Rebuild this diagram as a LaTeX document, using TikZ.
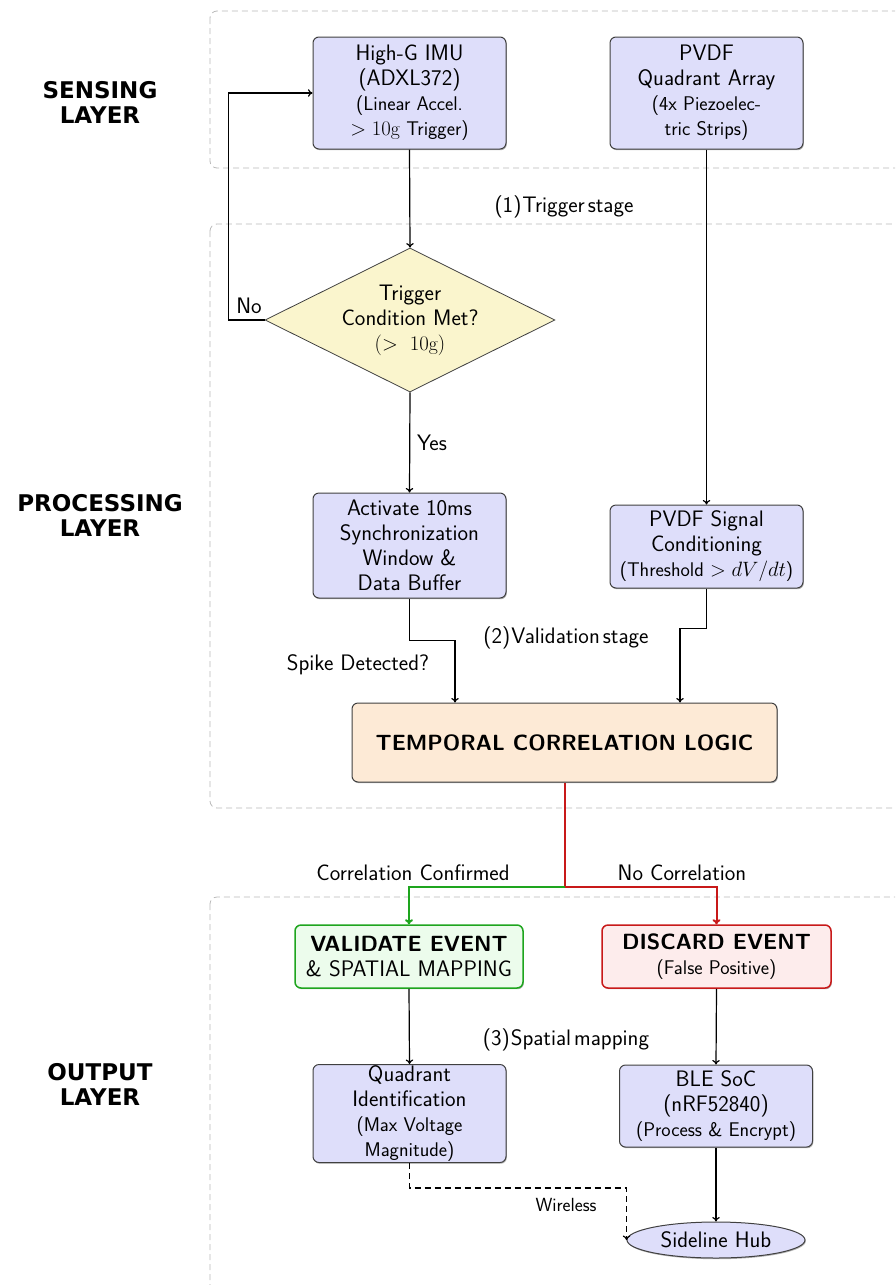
\documentclass[tikz,border=0pt]{standalone}
\usepackage{fontspec}
\usetikzlibrary{shapes.geometric,arrows.meta,shadows,calc}
\newfontfamily\layerfont{DejaVu Sans}
\definecolor{boxblue}{RGB}{222,222,250}
\definecolor{decfill}{RGB}{250,245,205}
\definecolor{peach}{RGB}{253,234,214}
\definecolor{vgreen}{RGB}{30,165,30}
\definecolor{vgreenfill}{RGB}{236,252,236}
\definecolor{dred}{RGB}{200,25,25}
\definecolor{dredfill}{RGB}{253,236,236}
\definecolor{framegray}{RGB}{185,185,185}
\newcommand\smtxt[1]{{\fontsize{19.8}{24}\selectfont #1}}
\begin{document}
\begin{tikzpicture}[x=1pt,y=-1pt,
  mainfont/.style={font=\fontsize{22.4}{25}\selectfont\sffamily},
  box/.style={draw=black!75, fill=boxblue, rounded corners=6pt, line width=1pt,
    align=center, minimum width=193pt, inner sep=1pt, mainfont,
    drop shadow={shadow xshift=0.8pt, shadow yshift=-1.2pt, fill=black!60, opacity=0.5}},
  decision/.style={diamond, draw=black!75, fill=decfill, line width=0.8pt, align=center,
    minimum width=290pt, minimum height=144pt, inner sep=0pt, aspect=2, mainfont},
  layerframe/.style={draw=framegray, dashed, dash pattern=on 6pt off 4pt, line width=0.8pt, rounded corners=7pt},
  layerlabel/.style={align=center, font=\fontsize{23}{25}\selectfont\layerfont\bfseries},
  lbl/.style={mainfont, inner sep=0pt},
  conn/.style={draw=black, line width=1.2pt, -{To[length=4.5pt,width=7.5pt]}},
]
\path[use as bounding box] (0,0) rectangle (895,1285);
\clip (0,0) rectangle (895,1285);

% layer frames
\draw[layerframe] (210,11) rectangle (920,168);
\draw[layerframe] (210,224) rectangle (920,808);
\draw[layerframe] (210,897) rectangle (920,1320);

% layer labels
\node[layerlabel] (lsens) at (100,102) {SENSING\\LAYER};
\node[layerlabel] (lproc) at (100,515) {PROCESSING\\LAYER};
\node[layerlabel] (lout) at (100,1084) {OUTPUT\\LAYER};

% nodes
\node[box, minimum height=112pt] (imu) at (409.5,93) {High-G IMU\\(ADXL372)\\\smtxt{(Linear Accel.}\\\smtxt{$>10\mathrm{g}$ Trigger)}};
\node[box, minimum height=112pt] (pvdf) at (706.5,93) {PVDF\\Quadrant Array\\\smtxt{(4x Piezoelec-}\\\smtxt{tric Strips)}};
\node[decision] (dec) at (410,320) {Trigger\\Condition Met?\\\smtxt{$(>\ 10\mathrm{g})$}};
\node[box, minimum height=105pt] (act) at (409.5,545.5) {Activate 10ms\\Synchronization\\Window \&\\Data Buffer};
\node[box, minimum height=83pt] (pcond) at (706.5,546.5) {PVDF Signal\\Conditioning\\\smtxt{(Threshold $> dV/dt$)}};
\node[box, fill=peach, minimum width=425pt, minimum height=79pt,
  font=\fontsize{22}{26}\selectfont\sffamily\bfseries] (tcl) at (564.5,742.5) {TEMPORAL CORRELATION LOGIC};
\node[box, draw=vgreen, fill=vgreenfill, line width=1.5pt, minimum width=228pt, minimum height=63pt,
  drop shadow={opacity=0}] (val) at (409,956.5) {{\fontsize{22}{26}\selectfont\bfseries VALIDATE EVENT}\\\fontsize{22.5}{26}\selectfont\& SPATIAL MAPPING};
\node[box, draw=dred, fill=dredfill, line width=1.5pt, minimum width=229pt, minimum height=63pt,
  drop shadow={opacity=0}] (dis) at (716.5,956.5) {{\fontsize{22}{26}\selectfont\bfseries DISCARD EVENT}\\\smtxt{(False Positive)}};
\node[box, minimum height=98pt] (quad) at (409.5,1113.5) {Quadrant\\Identification\\\smtxt{(Max Voltage}\\\smtxt{Magnitude)}};
\node[box, minimum height=82pt] (ble) at (716,1106) {BLE SoC\\(nRF52840)\\\smtxt{(Process \& Encrypt)}};
\node[ellipse, draw=black!75, fill=boxblue, line width=1pt, minimum width=178pt, minimum height=36pt, inner sep=0pt, mainfont,
  drop shadow={shadow xshift=0.8pt, shadow yshift=-1.2pt, fill=black!60, opacity=0.5}] (hub) at (716,1240) {Sideline Hub};

% free labels
\node[lbl] (t1) at (564,207) {(1)\hspace{1pt}Trigger\hspace{3pt}stage};
\node[lbl] (tno) at (249,306) {No};
\node[lbl] (tyes) at (432,443) {Yes};
\node[lbl] (tspike) at (358,665) {Spike Detected?};
\node[lbl] (t2) at (566,638) {(2)\hspace{1pt}Validation\hspace{3pt}stage};
\node[lbl] (tcc) at (413,873) {Correlation Confirmed};
\node[lbl] (tnc) at (682,873) {No Correlation};
\node[lbl] (t3) at (566,1040) {(3)\hspace{1pt}Spatial\hspace{3pt}mapping};
\node[lbl, font=\fontsize{19}{22}\selectfont\sffamily] (twl) at (566,1205) {Wireless};

% connectors
\draw[conn] (imu.south) -- (dec.north);
\draw[conn] (dec.west) -- ++(-36,0) |- (imu.west);
\draw[conn] (dec.south) -- (act.north);
\draw[conn] (pvdf.south) -- (pcond.north);
\draw[conn] (act.south) -- ++(0,42) -| ([xshift=-109.5pt]tcl.north);
\draw[conn] (pcond.south) -- ++(0,40) -| ([xshift=115.5pt]tcl.north);
\coordinate (split) at ($(tcl.south)+(0,104)$);
\draw[draw=dred, line width=2pt] (tcl.south) -- (split);
\draw[draw=vgreen, line width=2pt, -{To[length=5pt,width=8pt]}] (split) -| (val.north);
\draw[draw=dred, line width=2pt, -{To[length=5pt,width=8pt]}] (split) -| (dis.north);
\draw[conn] (val.south) -- (quad.north);
\draw[conn] (dis.south) -- (ble.north);
\draw[conn] (ble.south) -- (hub.north);
\path (hub.west) ++(0,-52) coordinate (wl);
\draw[conn, dashed, dash pattern=on 6pt off 4pt] (quad.south) |- (wl) -- (hub.west);
\end{tikzpicture}
\end{document}
